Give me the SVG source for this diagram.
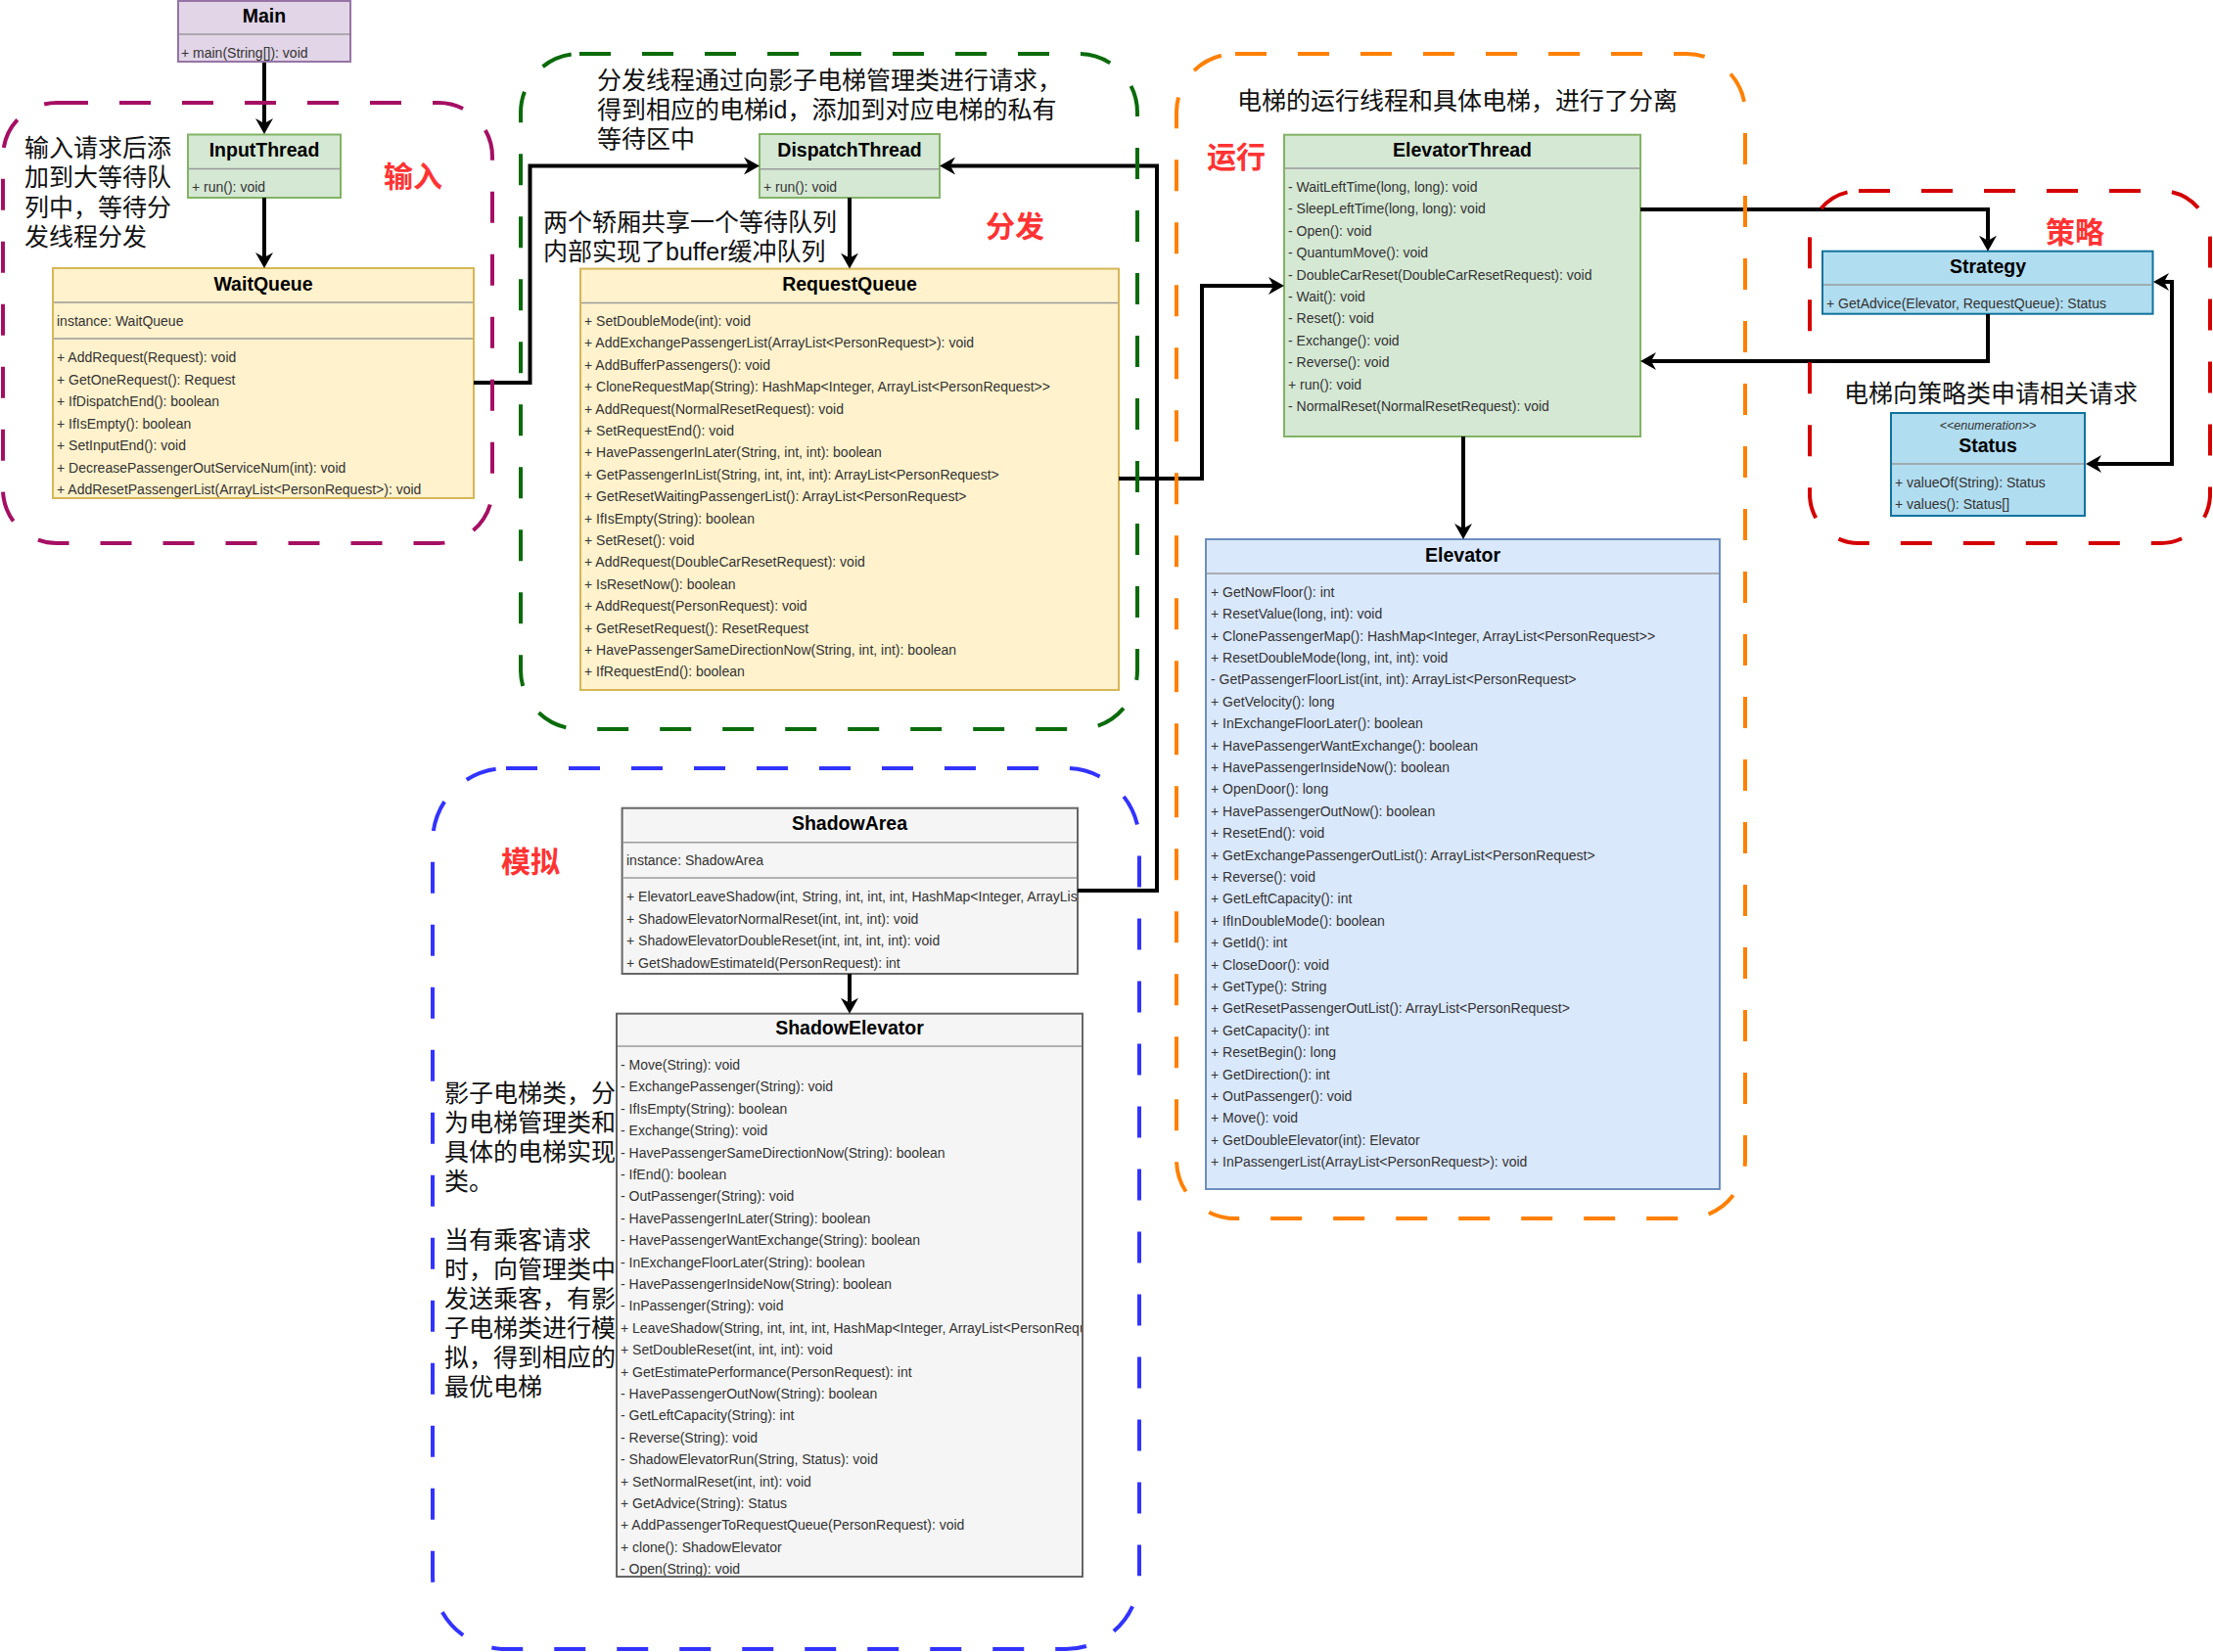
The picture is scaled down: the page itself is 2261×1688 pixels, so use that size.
<svg xmlns="http://www.w3.org/2000/svg" width="2261" height="1688" viewBox="0 0 2261 1688">
<style>
.bg{fill:#ffffff}
.purple{fill:#e1d5e7;stroke:#9673a6;stroke-width:2}
.green{fill:#d5e8d4;stroke:#82b366;stroke-width:2}
.yellow{fill:#fff2cc;stroke:#d6b656;stroke-width:2}
.blue{fill:#dae8fc;stroke:#6c8ebf;stroke-width:2}
.cyan{fill:#b1ddf0;stroke:#10739e;stroke-width:2}
.gray{fill:#f5f5f5;stroke:#666666;stroke-width:2}
.div{stroke:#9a9a9a;stroke-width:1.5}
.t{font-family:"Liberation Sans",Arial,sans-serif;font-size:14px;fill:#333333}
.ti{font-family:"Liberation Sans",Arial,sans-serif;font-size:19.5px;font-weight:bold;fill:#000000;text-anchor:middle}
.en{font-family:"Liberation Sans",Arial,sans-serif;font-size:12.5px;font-style:italic;fill:#333333;text-anchor:middle}
.cn{font-family:"Liberation Sans","Noto Sans CJK SC",sans-serif;font-size:25px;fill:#111111}
.red{font-family:"Noto Sans CJK SC",sans-serif;font-size:30px;font-weight:bold;fill:#ff3333}
.conn{fill:none;stroke:#000000;stroke-width:4;marker-end:url(#arr)}
.grp{fill:none;stroke-width:4;stroke-dasharray:32 32}
</style>
<defs>
<marker id="arr" markerUnits="userSpaceOnUse" markerWidth="20" markerHeight="20" refX="5" refY="10" orient="auto-start-reverse"><path d="M0,1 L16,10 L0,19 L5,10 Z" fill="#000000"/></marker>
<clipPath id="clipSA"><rect x="636" y="826" width="464" height="168"/></clipPath>
<clipPath id="clipSE"><rect x="631" y="1036" width="474" height="574"/></clipPath>
</defs>
<rect class="bg" x="0" y="0" width="2261" height="1688"/>

<g id="Main">
<rect class="purple" x="182" y="1" width="176" height="62"/>
<line class="div" x1="183" y1="35" x2="357" y2="35"/>
<text class="ti" x="270" y="23">Main</text>
<text class="t" x="185" y="59">+ main(String[]): void</text>
</g>

<g id="InputThread">
<rect class="green" x="192" y="137.5" width="156" height="64.5"/>
<line class="div" x1="193" y1="172.5" x2="347" y2="172.5"/>
<text class="ti" x="270" y="160">InputThread</text>
<text class="t" x="196" y="196">+ run(): void</text>
</g>

<g id="WaitQueue">
<rect class="yellow" x="54" y="274" width="430" height="235"/>
<line class="div" x1="55" y1="309" x2="483" y2="309"/>
<line class="div" x1="55" y1="346" x2="483" y2="346"/>
<text class="ti" x="269" y="297">WaitQueue</text>
<text class="t" x="58" y="333">instance: WaitQueue</text>
<text class="t" x="58" y="370">+ AddRequest(Request): void</text>
<text class="t" x="58" y="392.5">+ GetOneRequest(): Request</text>
<text class="t" x="58" y="415">+ IfDispatchEnd(): boolean</text>
<text class="t" x="58" y="437.5">+ IfIsEmpty(): boolean</text>
<text class="t" x="58" y="460">+ SetInputEnd(): void</text>
<text class="t" x="58" y="482.5">+ DecreasePassengerOutServiceNum(int): void</text>
<text class="t" x="58" y="505">+ AddResetPassengerList(ArrayList&lt;PersonRequest&gt;): void</text>
</g>

<g id="DispatchThread">
<rect class="green" x="776" y="137" width="184" height="65"/>
<line class="div" x1="777" y1="172.7" x2="959" y2="172.7"/>
<text class="ti" x="868" y="160">DispatchThread</text>
<text class="t" x="780" y="196">+ run(): void</text>
</g>

<g id="RequestQueue">
<rect class="yellow" x="593" y="274.6" width="550" height="430.4"/>
<line class="div" x1="594" y1="309.5" x2="1142" y2="309.5"/>
<text class="ti" x="868" y="297">RequestQueue</text>
<text class="t" x="597" y="333">+ SetDoubleMode(int): void</text>
<text class="t" x="597" y="355.4">+ AddExchangePassengerList(ArrayList&lt;PersonRequest&gt;): void</text>
<text class="t" x="597" y="377.8">+ AddBufferPassengers(): void</text>
<text class="t" x="597" y="400.2">+ CloneRequestMap(String): HashMap&lt;Integer, ArrayList&lt;PersonRequest&gt;&gt;</text>
<text class="t" x="597" y="422.6">+ AddRequest(NormalResetRequest): void</text>
<text class="t" x="597" y="445">+ SetRequestEnd(): void</text>
<text class="t" x="597" y="467.4">+ HavePassengerInLater(String, int, int): boolean</text>
<text class="t" x="597" y="489.8">+ GetPassengerInList(String, int, int, int): ArrayList&lt;PersonRequest&gt;</text>
<text class="t" x="597" y="512.2">+ GetResetWaitingPassengerList(): ArrayList&lt;PersonRequest&gt;</text>
<text class="t" x="597" y="534.6">+ IfIsEmpty(String): boolean</text>
<text class="t" x="597" y="557">+ SetReset(): void</text>
<text class="t" x="597" y="579.4">+ AddRequest(DoubleCarResetRequest): void</text>
<text class="t" x="597" y="601.8">+ IsResetNow(): boolean</text>
<text class="t" x="597" y="624.2">+ AddRequest(PersonRequest): void</text>
<text class="t" x="597" y="646.6">+ GetResetRequest(): ResetRequest</text>
<text class="t" x="597" y="669">+ HavePassengerSameDirectionNow(String, int, int): boolean</text>
<text class="t" x="597" y="691.4">+ IfRequestEnd(): boolean</text>
</g>

<g id="ElevatorThread">
<rect class="green" x="1312" y="137.7" width="364" height="308.3"/>
<line class="div" x1="1313" y1="172" x2="1675" y2="172"/>
<text class="ti" x="1494" y="160">ElevatorThread</text>
<text class="t" x="1316" y="196">- WaitLeftTime(long, long): void</text>
<text class="t" x="1316" y="218.4">- SleepLeftTime(long, long): void</text>
<text class="t" x="1316" y="240.8">- Open(): void</text>
<text class="t" x="1316" y="263.2">- QuantumMove(): void</text>
<text class="t" x="1316" y="285.6">- DoubleCarReset(DoubleCarResetRequest): void</text>
<text class="t" x="1316" y="308">- Wait(): void</text>
<text class="t" x="1316" y="330.4">- Reset(): void</text>
<text class="t" x="1316" y="352.8">- Exchange(): void</text>
<text class="t" x="1316" y="375.2">- Reverse(): void</text>
<text class="t" x="1316" y="397.6">+ run(): void</text>
<text class="t" x="1316" y="420">- NormalReset(NormalResetRequest): void</text>
</g>

<g id="Elevator">
<rect class="blue" x="1232" y="551" width="525" height="664"/>
<line class="div" x1="1233" y1="586" x2="1756" y2="586"/>
<text class="ti" x="1494.5" y="574">Elevator</text>
<text class="t" x="1237" y="609.7">+ GetNowFloor(): int</text>
<text class="t" x="1237" y="632.1">+ ResetValue(long, int): void</text>
<text class="t" x="1237" y="654.5">+ ClonePassengerMap(): HashMap&lt;Integer, ArrayList&lt;PersonRequest&gt;&gt;</text>
<text class="t" x="1237" y="676.9">+ ResetDoubleMode(long, int, int): void</text>
<text class="t" x="1237" y="699.3">- GetPassengerFloorList(int, int): ArrayList&lt;PersonRequest&gt;</text>
<text class="t" x="1237" y="721.7">+ GetVelocity(): long</text>
<text class="t" x="1237" y="744.1">+ InExchangeFloorLater(): boolean</text>
<text class="t" x="1237" y="766.5">+ HavePassengerWantExchange(): boolean</text>
<text class="t" x="1237" y="788.9">+ HavePassengerInsideNow(): boolean</text>
<text class="t" x="1237" y="811.3">+ OpenDoor(): long</text>
<text class="t" x="1237" y="833.7">+ HavePassengerOutNow(): boolean</text>
<text class="t" x="1237" y="856.1">+ ResetEnd(): void</text>
<text class="t" x="1237" y="878.5">+ GetExchangePassengerOutList(): ArrayList&lt;PersonRequest&gt;</text>
<text class="t" x="1237" y="900.9">+ Reverse(): void</text>
<text class="t" x="1237" y="923.3">+ GetLeftCapacity(): int</text>
<text class="t" x="1237" y="945.7">+ IfInDoubleMode(): boolean</text>
<text class="t" x="1237" y="968.1">+ GetId(): int</text>
<text class="t" x="1237" y="990.5">+ CloseDoor(): void</text>
<text class="t" x="1237" y="1012.9">+ GetType(): String</text>
<text class="t" x="1237" y="1035.3">+ GetResetPassengerOutList(): ArrayList&lt;PersonRequest&gt;</text>
<text class="t" x="1237" y="1057.7">+ GetCapacity(): int</text>
<text class="t" x="1237" y="1080.1">+ ResetBegin(): long</text>
<text class="t" x="1237" y="1102.5">+ GetDirection(): int</text>
<text class="t" x="1237" y="1124.9">+ OutPassenger(): void</text>
<text class="t" x="1237" y="1147.3">+ Move(): void</text>
<text class="t" x="1237" y="1169.7">+ GetDoubleElevator(int): Elevator</text>
<text class="t" x="1237" y="1192.1">+ InPassengerList(ArrayList&lt;PersonRequest&gt;): void</text>
</g>

<g id="Strategy">
<rect class="cyan" x="1862" y="256.7" width="337.5" height="64"/>
<line class="div" x1="1863" y1="291" x2="2198.5" y2="291"/>
<text class="ti" x="2031" y="279">Strategy</text>
<text class="t" x="1866" y="315">+ GetAdvice(Elevator, RequestQueue): Status</text>
</g>

<g id="Status">
<rect class="cyan" x="1932" y="422" width="198" height="105"/>
<line class="div" x1="1933" y1="474" x2="2129" y2="474"/>
<text class="en" x="2031" y="438.5">&lt;&lt;enumeration&gt;&gt;</text>
<text class="ti" x="2031" y="462">Status</text>
<text class="t" x="1936" y="498">+ valueOf(String): Status</text>
<text class="t" x="1936" y="520">+ values(): Status[]</text>
</g>

<g id="ShadowArea">
<rect class="gray" x="635.6" y="825.7" width="465.4" height="169.3"/>
<line class="div" x1="636.6" y1="860.7" x2="1100" y2="860.7"/>
<line class="div" x1="636.6" y1="897" x2="1100" y2="897"/>
<text class="ti" x="868" y="848">ShadowArea</text>
<g clip-path="url(#clipSA)">
<text class="t" x="640" y="884">instance: ShadowArea</text>
<text class="t" x="640" y="921">+ ElevatorLeaveShadow(int, String, int, int, int, HashMap&lt;Integer, ArrayList</text>
<text class="t" x="640" y="943.5">+ ShadowElevatorNormalReset(int, int, int): void</text>
<text class="t" x="640" y="966">+ ShadowElevatorDoubleReset(int, int, int, int): void</text>
<text class="t" x="640" y="988.5">+ GetShadowEstimateId(PersonRequest): int</text>
</g>
</g>

<g id="ShadowElevator">
<rect class="gray" x="630" y="1035.7" width="476" height="575.3"/>
<line class="div" x1="631" y1="1069" x2="1105" y2="1069"/>
<text class="ti" x="868" y="1057">ShadowElevator</text>
<g clip-path="url(#clipSE)">
<text class="t" x="634" y="1093">- Move(String): void</text>
<text class="t" x="634" y="1115.4">- ExchangePassenger(String): void</text>
<text class="t" x="634" y="1137.8">- IfIsEmpty(String): boolean</text>
<text class="t" x="634" y="1160.2">- Exchange(String): void</text>
<text class="t" x="634" y="1182.6">- HavePassengerSameDirectionNow(String): boolean</text>
<text class="t" x="634" y="1205">- IfEnd(): boolean</text>
<text class="t" x="634" y="1227.4">- OutPassenger(String): void</text>
<text class="t" x="634" y="1249.8">- HavePassengerInLater(String): boolean</text>
<text class="t" x="634" y="1272.2">- HavePassengerWantExchange(String): boolean</text>
<text class="t" x="634" y="1294.6">- InExchangeFloorLater(String): boolean</text>
<text class="t" x="634" y="1317">- HavePassengerInsideNow(String): boolean</text>
<text class="t" x="634" y="1339.4">- InPassenger(String): void</text>
<text class="t" x="634" y="1361.8">+ LeaveShadow(String, int, int, int, HashMap&lt;Integer, ArrayList&lt;PersonRequest</text>
<text class="t" x="634" y="1384.2">+ SetDoubleReset(int, int, int): void</text>
<text class="t" x="634" y="1406.6">+ GetEstimatePerformance(PersonRequest): int</text>
<text class="t" x="634" y="1429">- HavePassengerOutNow(String): boolean</text>
<text class="t" x="634" y="1451.4">- GetLeftCapacity(String): int</text>
<text class="t" x="634" y="1473.8">- Reverse(String): void</text>
<text class="t" x="634" y="1496.2">- ShadowElevatorRun(String, Status): void</text>
<text class="t" x="634" y="1518.6">+ SetNormalReset(int, int): void</text>
<text class="t" x="634" y="1541">+ GetAdvice(String): Status</text>
<text class="t" x="634" y="1563.4">+ AddPassengerToRequestQueue(PersonRequest): void</text>
<text class="t" x="634" y="1585.8">+ clone(): ShadowElevator</text>
<text class="t" x="634" y="1608.2">- Open(String): void</text>
</g>
</g>

<g id="connectors">
<path class="conn" d="M270,64 V126"/>
<path class="conn" d="M270,202 V263"/>
<path class="conn" d="M484,391 H541.5 V169.5 H765"/>
<path class="conn" d="M1101,910 H1182 V169.5 H971"/>
<path class="conn" d="M868,202 V263.6"/>
<path class="conn" d="M1143,489 H1228 V292 H1301"/>
<path class="conn" d="M1676,214 H2031 V245.7"/>
<path class="conn" d="M2031,321 V369 H1687"/>
<path class="conn" d="M1495,446 V540"/>
<path class="conn" d="M868,995 V1024.7"/>
<path class="conn" d="M2211,288 H2219 V474 H2142" marker-start="url(#arr)"/>
</g>

<g id="group-input">
<rect class="grp" x="3" y="105" width="500" height="450" rx="55" stroke="#a50f63"/>
<text class="cn" x="25" y="160">输入请求后添</text>
<text class="cn" x="25" y="190">加到大等待队</text>
<text class="cn" x="25" y="220.5">列中，等待分</text>
<text class="cn" x="25" y="250.5">发线程分发</text>
<text class="red" x="392" y="191">输入</text>
</g>

<g id="group-dispatch">
<rect class="grp" x="532" y="55" width="630" height="690" rx="60" stroke="#0a6b0a"/>
<text class="cn" x="610" y="90.5">分发线程通过向影子电梯管理类进行请求，</text>
<text class="cn" x="610" y="120.5">得到相应的电梯id，添加到对应电梯的私有</text>
<text class="cn" x="610" y="150.5">等待区中</text>
<text class="cn" x="555" y="235.5">两个轿厢共享一个等待队列</text>
<text class="cn" x="555" y="265.5">内部实现了buffer缓冲队列</text>
<text class="red" x="1007" y="241.5">分发</text>
</g>

<g id="group-run">
<rect class="grp" x="1202" y="55" width="581" height="1190" rx="60" stroke="#ff8000"/>
<text class="cn" x="1264" y="111.5">电梯的运行线程和具体电梯，进行了分离</text>
<text class="red" x="1233" y="171">运行</text>
</g>

<g id="group-strategy">
<rect class="grp" x="1849" y="195" width="409" height="360" rx="50" stroke="#d40000"/>
<text class="cn" x="1884" y="411">电梯向策略类申请相关请求</text>
<text class="red" x="2090" y="248">策略</text>
</g>

<g id="group-simulate">
<rect class="grp" x="442" y="785" width="722" height="900" rx="75" stroke="#3333ff"/>
<text class="red" x="512" y="891">模拟</text>
<text class="cn" x="454" y="1126">影子电梯类，分</text>
<text class="cn" x="454" y="1156">为电梯管理类和</text>
<text class="cn" x="454" y="1186">具体的电梯实现</text>
<text class="cn" x="454" y="1216">类。</text>
<text class="cn" x="454" y="1276">当有乘客请求</text>
<text class="cn" x="454" y="1306">时，向管理类中</text>
<text class="cn" x="454" y="1336">发送乘客，有影</text>
<text class="cn" x="454" y="1366">子电梯类进行模</text>
<text class="cn" x="454" y="1396">拟，得到相应的</text>
<text class="cn" x="454" y="1426">最优电梯</text>
</g>
</svg>
